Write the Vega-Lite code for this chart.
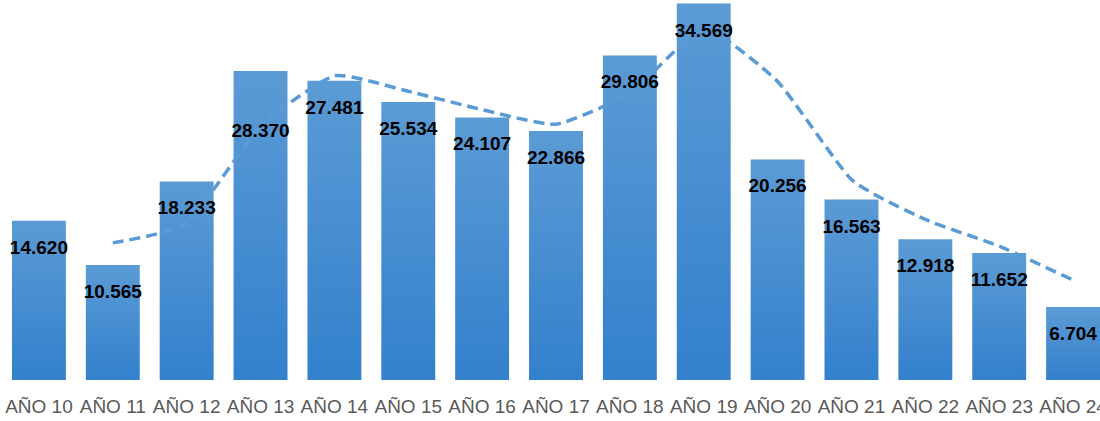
{
  "$schema": "https://vega.github.io/schema/vega-lite/v6.json",
  "width": 1098,
  "height": 380,
  "autosize": {"type": "none"},
  "padding": {"left": 2, "top": 0, "right": 0, "bottom": 41},
  "background": "white",
  "config": {
    "view": {"stroke": null},
    "locale": {"number": {"decimal": ",", "thousands": ".", "grouping": [3], "currency": ["", " €"]}},
    "axis": {"grid": false, "domain": false, "ticks": false}
  },
  "data": {
    "values": [
      {"year": "AÑO 10", "value": 14620, "avg": null},
      {"year": "AÑO 11", "value": 10565, "avg": 12592.5},
      {"year": "AÑO 12", "value": 18233, "avg": 14399},
      {"year": "AÑO 13", "value": 28370, "avg": 23301.5},
      {"year": "AÑO 14", "value": 27481, "avg": 27925.5},
      {"year": "AÑO 15", "value": 25534, "avg": 26507.5},
      {"year": "AÑO 16", "value": 24107, "avg": 24820.5},
      {"year": "AÑO 17", "value": 22866, "avg": 23486.5},
      {"year": "AÑO 18", "value": 29806, "avg": 26336},
      {"year": "AÑO 19", "value": 34569, "avg": 32187.5},
      {"year": "AÑO 20", "value": 20256, "avg": 27412.5},
      {"year": "AÑO 21", "value": 16563, "avg": 18409.5},
      {"year": "AÑO 22", "value": 12918, "avg": 14740.5},
      {"year": "AÑO 23", "value": 11652, "avg": 12285},
      {"year": "AÑO 24", "value": 6704, "avg": 9178}
    ]
  },
  "encoding": {
    "x": {
      "field": "year",
      "type": "nominal",
      "sort": null,
      "scale": {"range": [0, 1108], "paddingInner": 0.27, "paddingOuter": 0.135},
      "axis": {"title": null, "labelAngle": 0, "labelFont": "Liberation Sans", "labelFontSize": 19, "labelColor": "#595959", "labelPadding": 17}
    }
  },
  "layer": [
    {
      "mark": {
        "type": "bar",
        "color": {
          "gradient": "linear", "x1": 0, "y1": 0, "x2": 0, "y2": 1,
          "stops": [{"offset": 0, "color": "#5B9BD5"}, {"offset": 1, "color": "#3380CC"}]
        }
      },
      "encoding": {
        "y": {"field": "value", "type": "quantitative", "scale": {"domain": [0, 34891]}, "axis": null}
      }
    },
    {
      "transform": [{"filter": "datum.avg != null"}],
      "mark": {"type": "line", "color": "#5B9BD5", "strokeWidth": 3.5, "strokeDash": [11, 6], "interpolate": "cardinal", "tension": 0.5},
      "encoding": {
        "y": {"field": "avg", "type": "quantitative", "scale": {"domain": [0, 34891]}, "axis": null}
      }
    },
    {
      "transform": [{"filter": "datum.value != 28370"}],
      "mark": {"type": "text", "font": "Liberation Sans", "fontSize": 19, "fontWeight": "bold", "color": "#000000", "baseline": "middle", "dy": 27},
      "encoding": {
        "y": {"field": "value", "type": "quantitative", "scale": {"domain": [0, 34891]}, "axis": null},
        "text": {"field": "value", "type": "quantitative", "format": ","}
      }
    },
    {
      "transform": [{"filter": "datum.value == 28370"}],
      "mark": {"type": "text", "font": "Liberation Sans", "fontSize": 19, "fontWeight": "bold", "color": "#000000", "baseline": "middle", "dy": 60},
      "encoding": {
        "y": {"field": "value", "type": "quantitative", "scale": {"domain": [0, 34891]}, "axis": null},
        "text": {"field": "value", "type": "quantitative", "format": ","}
      }
    }
  ]
}
